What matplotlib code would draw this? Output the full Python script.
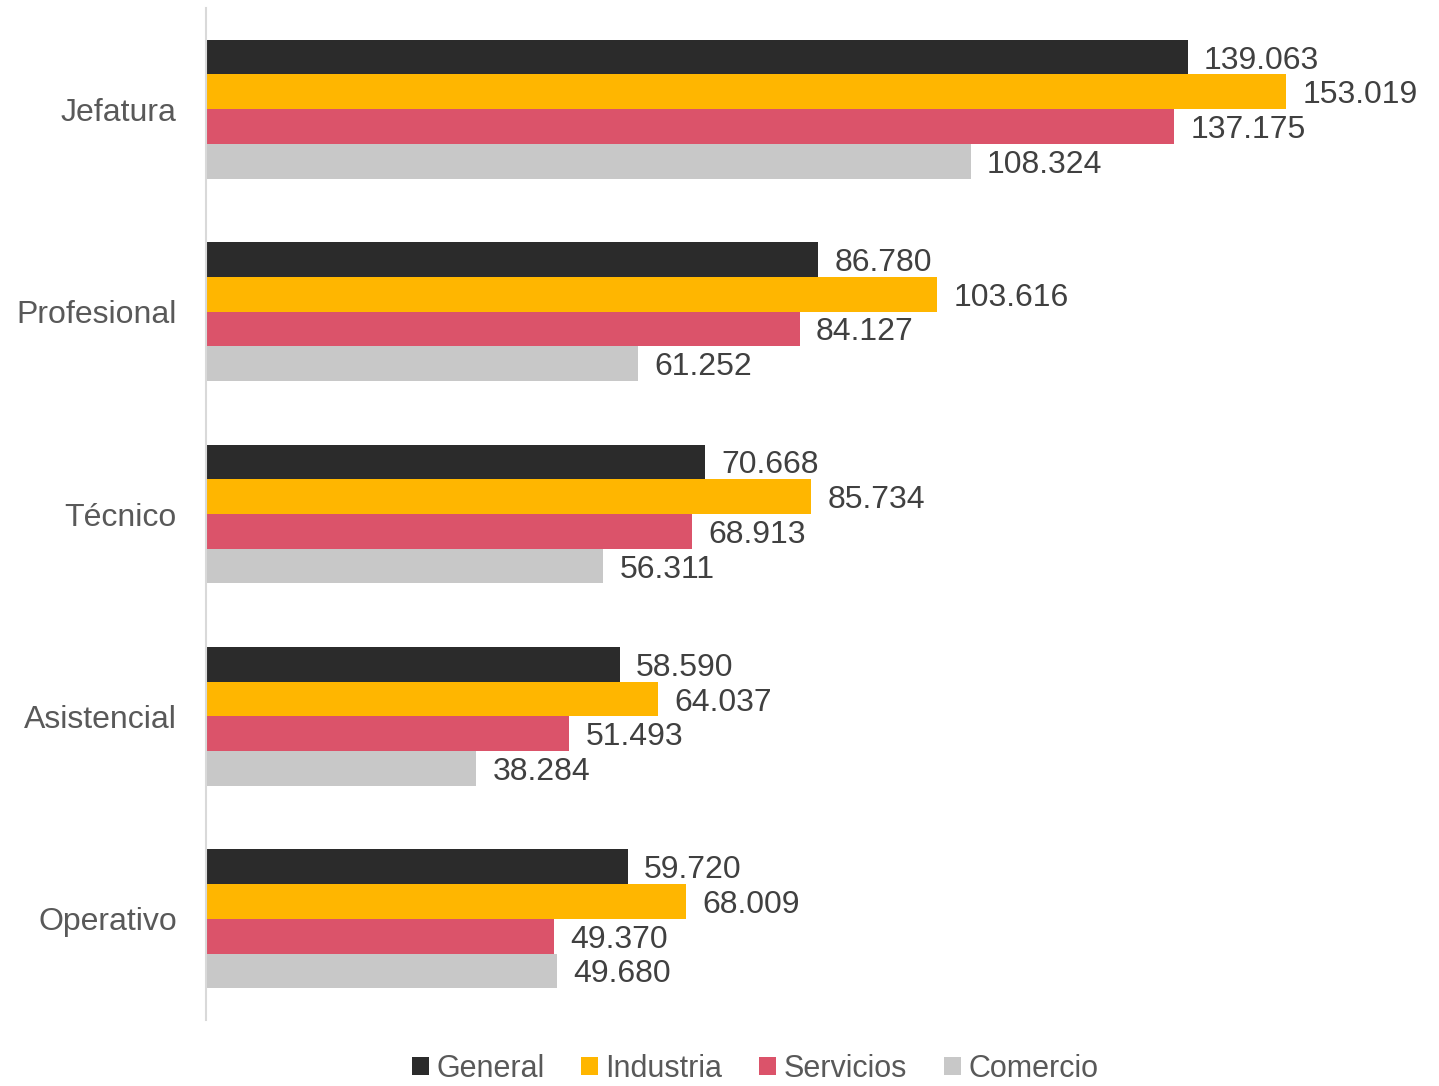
import matplotlib
matplotlib.use('Agg')
import matplotlib.pyplot as plt
import numpy as np

plt.rcParams['font.family'] = ['Liberation Sans', 'DejaVu Sans']

# data
categories = ['Jefatura', 'Profesional', 'Técnico', 'Asistencial', 'Operativo']
series = ['General', 'Industria', 'Servicios', 'Comercio']
general = [139.063, 86.780, 70.668, 58.590, 59.720]
industria = [153.019, 103.616, 85.734, 64.037, 68.009]
servicios = [137.175, 84.127, 68.913, 51.493, 49.370]
comercio = [108.324, 61.252, 56.311, 38.284, 49.680]
colors = ['#2b2b2b', '#ffb600', '#db536a', '#c8c8c8']

W, H = 1439, 1086
fig = plt.figure(figsize=(W / 100, H / 100), dpi=100)
ax = fig.add_axes([206 / W, 1 - 1020 / H, 1214 / W, 1012 / H])

bar_h = 0.1715
y = np.arange(len(categories))
for i, (name, vals, c) in enumerate(zip(series, [general, industria, servicios, comercio], colors)):
    pos = y + (i - 1.5) * bar_h
    ax.barh(pos, vals, height=bar_h, color=c, label=name)
    for p, v in zip(pos, vals):
        ax.text(v + 2.3, p, f'{v:.3f}', va='center_baseline', ha='left',
                fontsize=23, color='#404040')

ax.set_ylim(len(categories) - 0.5, -0.5)
ax.set_xlim(0, 1214 / 7.058)
ax.set_yticks(y)
ax.set_yticklabels(categories, fontsize=23, color='#595959')
for lab in ax.get_yticklabels():
    lab.set_verticalalignment('center_baseline')
ax.tick_params(axis='y', length=0, pad=21)
ax.set_xticks([])
for s in ['top', 'right', 'bottom']:
    ax.spines[s].set_visible(False)
ax.spines['left'].set_color('#d9d9d9')
ax.spines['left'].set_linewidth(1.5)

leg = fig.legend(loc='center', bbox_to_anchor=(755 / W, 1 - 1069 / H), ncol=4,
                 frameon=False, fontsize=22, handlelength=0.55, handleheight=0.55,
                 handletextpad=0.25, columnspacing=1.2, borderpad=0.2)
for t in leg.get_texts():
    t.set_color('#595959')

fig.savefig('out.png', dpi=100)
